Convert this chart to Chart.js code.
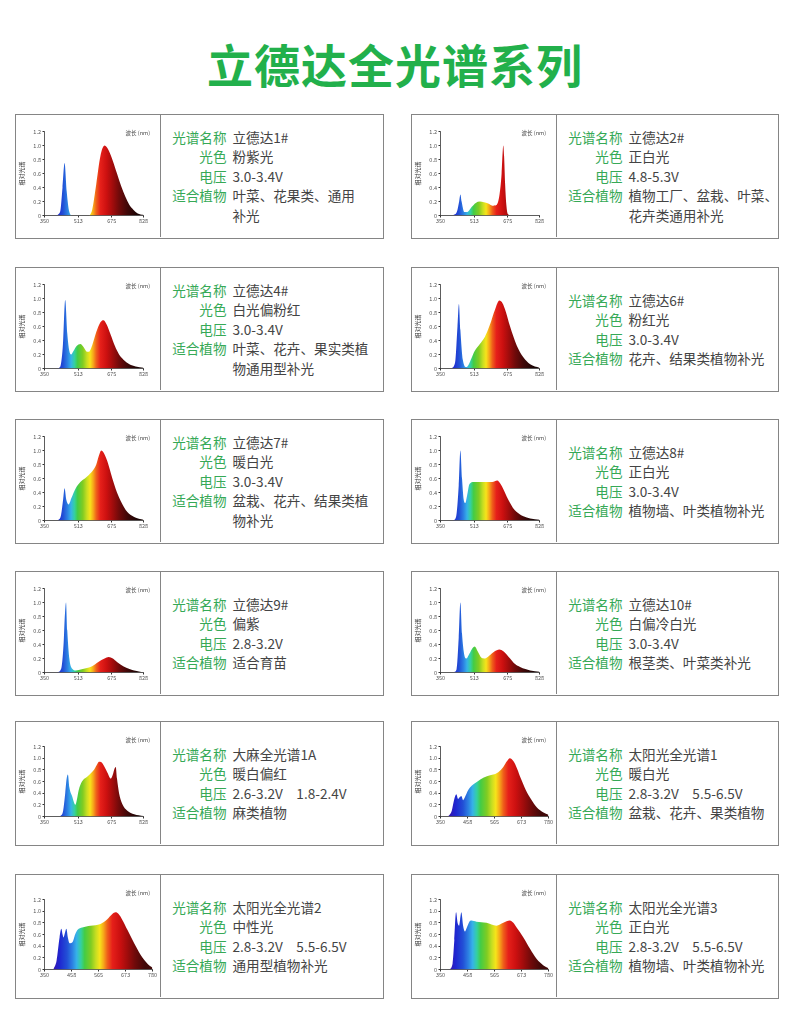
<!DOCTYPE html>
<html>
<head>
<meta charset="utf-8">
<script src="https://cdn.jsdelivr.net/npm/chart.js@4.4.1/dist/chart.umd.min.js"></script>
<style>
  body { margin: 0; width: 790px; height: 1016px; background: #fff; position: relative; overflow: hidden;
         font-family: 'Noto Sans CJK SC', sans-serif; }
  #title { position: absolute; left: 0; top: 38px; width: 790px; text-align: center; font-size: 46px;
           line-height: 50px; font-weight: bold; color: #22b04b; letter-spacing: 1px; }
  .card { position: absolute; height: 125px; box-sizing: border-box; border: 1.5px solid #858585; }
  .chartbox { position: absolute; left: 0; top: 0; width: 144px; height: 122px; border-right: 1.5px solid #858585; }
  .info { position: absolute; top: 0; bottom: 0; left: 145.5px; right: 0; display: flex; align-items: center; }
  .grid { display: grid; grid-template-columns: 57px auto; column-gap: 6px; padding-left: 8px;
          font-size: 13.6px; line-height: 19.4px; color: #444; white-space: nowrap; }
  .lab { color: #36a956; text-align: right; }
</style>
</head>
<body>
<div id="title">立德达全光谱系列</div>
<div id="cards"></div>
<script>
// card texts
const names = ["立德达1#", "立德达2#", "立德达4#", "立德达6#", "立德达7#", "立德达8#",
  "立德达9#", "立德达10#", "大麻全光谱1A", "太阳光全光谱1", "太阳光全光谱2", "太阳光全光谱3"];
const lightColors = ["粉紫光", "正白光", "白光偏粉红", "粉红光", "暖白光", "正白光",
  "偏紫", "白偏冷白光", "暖白偏红", "暖白光", "中性光", "正白光"];
const voltages = ["3.0-3.4V", "4.8-5.3V", "3.0-3.4V", "3.0-3.4V", "3.0-3.4V", "3.0-3.4V",
  "2.8-3.2V", "3.0-3.4V", "2.6-3.2V　1.8-2.4V", "2.8-3.2V　5.5-6.5V", "2.8-3.2V　5.5-6.5V", "2.8-3.2V　5.5-6.5V"];
const plants = ["叶菜、花果类、通用\n补光", "植物工厂、盆栽、叶菜、\n花卉类通用补光", "叶菜、花卉、果实类植\n物通用型补光",
  "花卉、结果类植物补光", "盆栽、花卉、结果类植\n物补光", "植物墙、叶类植物补光", "适合育苗", "根茎类、叶菜类补光",
  "麻类植物", "盆栽、花卉、果类植物", "通用型植物补光", "植物墙、叶类植物补光"];

// axis ticks
const ledTicks = [350, 513, 675, 828];
const sunTicks = [350, 458, 565, 673, 780];

// spectra (wavelength nm, relative intensity)
const ld1Wl = [400, 425, 437, 447, 457, 470, 485, 560, 580, 600, 620, 640, 660, 680, 700, 720, 740, 760, 780, 800, 828];
const ld1Val = [0, 0.05, 0.4, 0.75, 0.35, 0.05, 0, 0, 0.08, 0.45, 0.85, 1.0, 0.93, 0.78, 0.6, 0.42, 0.27, 0.15, 0.08, 0.03, 0.01];

const ld2Wl = [410, 430, 440, 446, 452, 465, 480, 500, 520, 540, 560, 580, 600, 620, 635, 645, 650, 653, 657, 662, 668, 675, 690];
const ld2Val = [0, 0.06, 0.2, 0.3, 0.2, 0.05, 0.05, 0.12, 0.18, 0.2, 0.19, 0.17, 0.14, 0.15, 0.3, 0.6, 0.9, 1.0, 0.85, 0.45, 0.15, 0.02, 0];

const ld4Wl = [410, 425, 438, 450, 460, 470, 478, 490, 505, 523, 540, 555, 564, 580, 600, 620, 634, 650, 670, 690, 710, 730, 760, 790, 828];
const ld4Val = [0, 0.02, 0.3, 0.98, 0.5, 0.25, 0.2, 0.25, 0.32, 0.35, 0.3, 0.24, 0.24, 0.33, 0.52, 0.66, 0.69, 0.63, 0.48, 0.32, 0.2, 0.13, 0.06, 0.03, 0.01];

const ld6Wl = [400, 420, 432, 439, 446, 458, 475, 485, 500, 515, 540, 564, 588, 613, 634, 650, 661, 686, 718, 750, 783, 828];
const ld6Val = [0, 0.08, 0.6, 0.92, 0.55, 0.12, 0.02, 0.05, 0.15, 0.25, 0.35, 0.45, 0.62, 0.84, 0.97, 0.93, 0.85, 0.6, 0.33, 0.16, 0.06, 0.01];

const ld7Wl = [415, 430, 440, 447, 455, 467, 480, 499, 523, 545, 564, 585, 600, 612, 624, 635, 653, 670, 686, 700, 718, 750, 783, 828];
const ld7Val = [0, 0.08, 0.3, 0.46, 0.3, 0.23, 0.32, 0.45, 0.55, 0.6, 0.65, 0.72, 0.8, 0.92, 1.0, 0.97, 0.85, 0.68, 0.52, 0.4, 0.28, 0.12, 0.05, 0.01];

const ld8Wl = [410, 425, 438, 446, 454, 462, 470, 478, 490, 510, 540, 570, 600, 624, 640, 653, 670, 686, 700, 718, 750, 783, 828];
const ld8Val = [0, 0.05, 0.5, 1.0, 0.6, 0.3, 0.25, 0.35, 0.52, 0.55, 0.55, 0.55, 0.55, 0.57, 0.52, 0.45, 0.34, 0.25, 0.18, 0.12, 0.06, 0.03, 0.01];

const ld9Wl = [410, 430, 442, 448, 454, 460, 470, 485, 500, 520, 550, 580, 610, 640, 660, 680, 700, 730, 760, 795, 828];
const ld9Val = [0, 0.05, 0.4, 0.8, 1.0, 0.6, 0.2, 0.05, 0.03, 0.04, 0.06, 0.09, 0.15, 0.2, 0.22, 0.2, 0.15, 0.09, 0.05, 0.02, 0];

const ld10Wl = [412, 428, 438, 446, 454, 465, 475, 490, 505, 515, 530, 548, 564, 585, 610, 634, 655, 686, 710, 734, 760, 783, 828];
const ld10Val = [0, 0.05, 0.5, 1.0, 0.55, 0.25, 0.2, 0.27, 0.35, 0.37, 0.3, 0.21, 0.2, 0.24, 0.3, 0.33, 0.3, 0.2, 0.12, 0.08, 0.05, 0.03, 0.01];

const hempWl = [425, 440, 450, 457, 463, 470, 483, 499, 507, 515, 531, 556, 589, 605, 613, 625, 640, 654, 670, 680, 688, 694, 700, 710, 725, 750, 783, 828];
const hempVal = [0, 0.1, 0.4, 0.65, 0.72, 0.5, 0.35, 0.2, 0.3, 0.45, 0.6, 0.68, 0.8, 0.9, 0.94, 0.93, 0.85, 0.75, 0.65, 0.72, 0.82, 0.85, 0.65, 0.4, 0.22, 0.1, 0.04, 0.01];

const sun1Wl = [380, 395, 405, 413, 420, 426, 433, 440, 447, 460, 475, 490, 510, 535, 560, 580, 600, 615, 626, 640, 655, 670, 690, 710, 733, 760, 780];
const sun1Val = [0, 0.1, 0.3, 0.38, 0.3, 0.33, 0.35, 0.28, 0.33, 0.45, 0.53, 0.58, 0.64, 0.69, 0.72, 0.76, 0.85, 0.95, 1.0, 0.95, 0.82, 0.65, 0.45, 0.3, 0.16, 0.07, 0.03];

const sun2Wl = [385, 398, 410, 417, 422, 426, 431, 437, 443, 450, 462, 472, 482, 500, 533, 573, 600, 620, 633, 645, 660, 680, 707, 733, 760, 780];
const sun2Val = [0, 0.15, 0.55, 0.7, 0.6, 0.55, 0.62, 0.7, 0.55, 0.45, 0.47, 0.6, 0.68, 0.72, 0.75, 0.78, 0.86, 0.95, 0.98, 0.95, 0.85, 0.68, 0.45, 0.25, 0.1, 0.03];

const sun3Wl = [385, 398, 405, 412, 418, 424, 428, 433, 440, 447, 455, 465, 473, 493, 533, 573, 600, 626, 640, 653, 680, 707, 733, 760, 780];
const sun3Val = [0, 0.1, 0.5, 0.98, 0.8, 0.75, 0.85, 0.98, 0.75, 0.65, 0.72, 0.82, 0.84, 0.82, 0.8, 0.75, 0.8, 0.84, 0.8, 0.72, 0.55, 0.35, 0.18, 0.07, 0.02];

const spectra = [
  [ld1Wl, ld1Val], [ld2Wl, ld2Val], [ld4Wl, ld4Val], [ld6Wl, ld6Val], [ld7Wl, ld7Val], [ld8Wl, ld8Val],
  [ld9Wl, ld9Val], [ld10Wl, ld10Val], [hempWl, hempVal], [sun1Wl, sun1Val], [sun2Wl, sun2Val], [sun3Wl, sun3Val]
];
const sunSeries = [false, false, false, false, false, false, false, false, false, true, true, true];

// colour of light by wavelength
const spectrumStops = [
  [380, "#3a12a8"], [410, "#1f26d0"], [440, "#2250d6"], [460, "#2c7ee2"], [478, "#36b2e8"],
  [495, "#34d0a0"], [510, "#44cc44"], [535, "#80cc22"], [555, "#c8de22"], [570, "#f6e41a"],
  [585, "#f6a81a"], [600, "#ef601a"], [620, "#e6201a"], [650, "#cc1010"], [680, "#a00c0c"],
  [710, "#700a0a"], [750, "#400808"], [800, "#1a0404"], [830, "#100202"]
];

Chart.defaults.font.family = "'Noto Sans CJK SC', sans-serif";

function spectrumFill(chart) {
  const area = chart.chartArea;
  if (!area) return "rgba(0,0,0,0)";
  const x = chart.scales.x;
  const g = chart.ctx.createLinearGradient(x.left, 0, x.right, 0);
  spectrumStops.forEach(([w, c]) => {
    const t = (w - x.min) / (x.max - x.min);
    if (t >= 0 && t <= 1) g.addColorStop(t, c);
  });
  return g;
}

const wlLabel = {
  id: "wlLabel",
  afterDraw(chart) {
    const c = chart.ctx;
    c.save();
    c.font = "5.5px 'Noto Sans CJK SC'";
    c.fillStyle = "#444";
    c.textAlign = "right";
    c.textBaseline = "middle";
    c.fillText("波长 (nm)", 134, 18);
    c.restore();
  }
};

const cardTops = [114, 267, 419, 571, 721, 874];
const cardsEl = document.getElementById("cards");

names.forEach((name, i) => {
  const col = i % 2, row = Math.floor(i / 2);
  const card = document.createElement("div");
  card.className = "card";
  card.style.left = (col ? 411 : 15) + "px";
  card.style.width = (col ? 368 : 369) + "px";
  card.style.top = cardTops[row] + "px";
  card.innerHTML =
    '<div class="chartbox"><canvas width="144" height="122"></canvas></div>' +
    '<div class="info"><div class="grid">' +
    '<span class="lab">光谱名称</span><span>' + name + '</span>' +
    '<span class="lab">光色</span><span>' + lightColors[i] + '</span>' +
    '<span class="lab">电压</span><span style="white-space:pre">' + voltages[i] + '</span>' +
    '<span class="lab">适合植物</span><span>' + plants[i].replace("\n", "<br>") + '</span>' +
    '</div></div>';
  cardsEl.appendChild(card);

  const sun = sunSeries[i];
  const lowFrame = row >= 4;
  const xMax = sun ? 780 : 828;
  const xTicks = sun ? sunTicks : ledTicks;
  const top = lowFrame ? 24.5 : 16.5;
  const bottom = lowFrame ? 94.5 : 100.5;
  const right = sun ? 136.5 : 127.5;
  const [wl, val] = spectra[i];

  new Chart(card.querySelector("canvas"), {
    type: "line",
    data: {
      datasets: [{
        data: wl.map((w, k) => ({ x: w, y: val[k] })),
        fill: "origin",
        borderWidth: 0,
        borderColor: "rgba(0,0,0,0)",
        pointRadius: 0,
        cubicInterpolationMode: "monotone",
        backgroundColor: (ctx) => spectrumFill(ctx.chart),
      }],
    },
    options: {
      responsive: false,
      animation: false,
      events: [],
      layout: { padding: { top: top, right: 144 - right, left: 0, bottom: 0 } },
      plugins: { legend: { display: false }, tooltip: { enabled: false } },
      scales: {
        x: {
          type: "linear",
          min: 350,
          max: xMax,
          afterBuildTicks: (s) => { s.ticks = xTicks.map((v) => ({ value: v })); },
          afterFit: (s) => { s.height = 122 - bottom; },
          grid: { drawOnChartArea: false, tickLength: 2, color: "#333" },
          border: { color: "#333", width: 0.8 },
          ticks: { font: { size: 5.5 }, color: "#555", padding: 0.5, maxRotation: 0, autoSkip: false },
        },
        y: {
          min: 0,
          max: 1.2,
          afterFit: (s) => { s.width = 28.5; },
          grid: { drawOnChartArea: false, tickLength: 2, color: "#333" },
          border: { color: "#333", width: 0.8 },
          ticks: {
            stepSize: 0.2,
            font: { size: 5.5 },
            color: "#555",
            padding: 1.5,
            callback: (v) => (v === 0 ? "0" : v.toFixed(1)),
          },
          title: { display: true, text: "相对光谱", font: { size: 6 }, color: "#333", padding: { top: 2 } },
        },
      },
    },
    plugins: [wlLabel],
  });
});
</script>
</body>
</html>
